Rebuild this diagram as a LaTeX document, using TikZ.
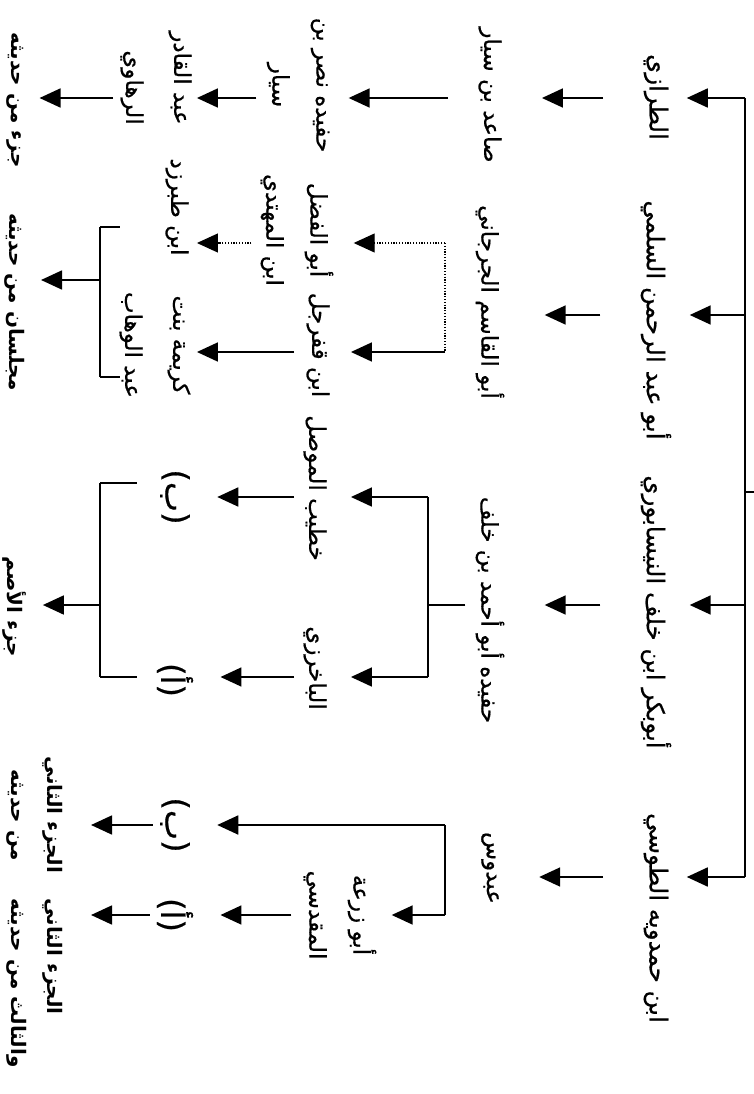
\documentclass[tikz,border=0pt]{standalone}
\usepackage{fontspec}
\usetikzlibrary{arrows.meta}
\TeXXeTstate=1
\newfontfamily\arbb[Script=Arabic]{DejaVu Sans Bold}
\newfontfamily\arb[Script=Arabic, FakeBold=0.6]{DejaVu Sans}
\newcommand\AR[1]{\beginR#1\endR}
\tikzset{
  txt/.style={rotate=-90, inner sep=0pt, outer sep=0pt, align=center},
  lone/.style={txt, font=\arb\fontsize{24.5}{30}\selectfont},
  ltwo/.style={txt, font=\arb\fontsize{23}{30}\selectfont},
  lthree/.style={txt, font=\arb\fontsize{23}{44}\selectfont},
  lfour/.style={txt, font=\arb\fontsize{23}{48}\selectfont},
  bld/.style={txt, font=\arbb\fontsize{20}{36}\selectfont},
  prn/.style={txt, font=\arb\fontsize{32}{36}\selectfont},
  ln/.style={line width=1.8pt},
  arr/.style={ln, -{Triangle[length=21pt,width=19pt]}},
  dotl/.style={line width=1.1pt, dash pattern=on 1.2pt off 1.6pt},
  darr/.style={dotl, -{Triangle[length=21pt,width=19pt]}},
}
\begin{document}
\begin{tikzpicture}[x=1pt,y=-1pt]
\useasboundingbox (0,0) rectangle (754,1094);
% level 1
\node[lone] (A1) at (656,97) {\AR{الطرازي}};
\node[lone] (A2) at (656,320) {\AR{أبو عبد الرحمن السلمي}};
\node[lone] (A3) at (656,612) {\AR{أبوبكر ابن خلف النيسابوري}};
\node[lone] (A4) at (656,918) {\AR{ابن حمدويه الطوسي}};
% level 2
\node[ltwo] (B1) at (490,95) {\AR{صاعد بن سيار}};
\node[ltwo] (B2) at (490,302) {\AR{أبو القاسم الجرجاني}};
\node[ltwo] (B3) at (490,610) {\AR{حفيده أبو أحمد بن خلف}};
\node[ltwo] (B4) at (490,868) {\AR{عبدوس}};
% level 3
\node[lthree] (C1) at (298,85) {\AR{حفيده نصر بن}\\\AR{سيار}};
\node[lthree] (C2) at (297,230) {\AR{أبو الفضل}\\\AR{ابن المهتدي}};
\node[lthree] (C3) at (318,345) {\AR{ابن قفرجل}};
\node[lthree] (C4) at (315,488) {\AR{خطيب الموصل}};
\node[lthree] (C5) at (315,668) {\AR{الباخرزي}};
\node[lthree] (C6) at (340,915) {\AR{أبو زرعة}\\\AR{المقدسي}};
% level 4
\node[lfour, align=right] (D1) at (156,78) {\AR{عبد القادر}\\\AR{الرهاوي}};
\node[lthree] (D2) at (177,207) {\AR{ابن طبرزد}};
\node[lfour] (D3) at (155,345) {\AR{كريمة بنت}\\\AR{عبد الوهاب}};
\node[prn] (D4) at (175,497) {\AR{(ب)}};
\node[prn] (D5) at (175,680) {\AR{(أ)}};
\node[prn] (D6) at (175,825) {\AR{(ب)}};
\node[prn] (D7) at (175,915) {\AR{(أ)}};
% level 5
\node[bld] (E1) at (15,100) {\AR{جزء من حديثه}};
\node[bld] (E2) at (15,302) {\AR{مجلسان من حديثه}};
\node[bld] (E3) at (15,607) {\AR{جزء الأصم}};
\node[bld] (E4) at (35,815) {\AR{الجزء الثاني}\\\AR{من حديثه}};
\node[bld, align=left] (E5) at (35,983) {\AR{الجزء الثاني}\\\AR{والثالث من حديثه}};
% root and level 1 arrows
\coordinate (J1) at (745,98);
\coordinate (J2) at (745,315);
\coordinate (J3) at (745,605);
\coordinate (J4) at (745,877);
\coordinate (R) at (754,492);
\draw[ln] (J1) -- (J4);
\draw[ln] (R) -- (R -| J1);
\foreach \i in {1,...,4}{
  \draw[arr, shorten >=18.5pt] (J\i) -- (J\i -| A\i.north);
  \draw[arr, shorten <=40.5pt, shorten >=40.4pt] (A\i.south |- J\i) -- (B\i.north |- J\i);
}
% level 2 -> 3
\draw[arr, shorten <=30.4pt, shorten >=19.4pt] (B1.south |- J1) -- (C1.north |- J1);
\coordinate (K1) at (445,243);
\coordinate (K2) at (445,352);
\draw[dotl] (K1) -- (K2);
\draw[darr, shorten >=20.4pt] (K1) -- (K1 -| C2.north);
\draw[arr, shorten >=21.4pt] (K2) -- (K2 -| C3.north);
\coordinate (K3) at (428,497);
\coordinate (K4) at (428,677);
\coordinate (K5) at (428,605);
\draw[ln] (K3) -- (K4);
\draw[ln, shorten <=10.4pt] (B3.south |- K5) -- (K5);
\draw[arr, shorten >=24.4pt] (K3) -- (K3 -| C4.north);
\draw[arr, shorten >=24.4pt] (K4) -- (K4 -| C5.north);
\coordinate (K6) at (445,825);
\coordinate (K7) at (445,915);
\draw[ln] (K6) -- (K7);
\draw[arr, shorten >=27.4pt] (K6) -- (K6 -| D6.north);
\draw[arr, shorten >=15.4pt] (K7) -- (K7 -| C6.north);
% level 3 -> 4
\draw[arr, shorten <=10.4pt, shorten >=5.4pt] (C1.south |- J1) -- (D1.north |- J1);
\draw[darr, shorten <=9.4pt, shorten >=8.4pt] (C2.south |- K1) -- (D2.north |- K1);
\draw[arr, shorten <=12.4pt, shorten >=6.4pt] (C3.south |- K2) -- (D3.north |- K2);
\draw[arr, shorten <=9.4pt, shorten >=27.4pt] (C4.south |- K3) -- (D4.north |- K3);
\draw[arr, shorten <=9.4pt, shorten >=27.4pt] (C5.south |- K4) -- (D5.north |- K4);
\draw[arr, shorten <=12.4pt, shorten >=27.4pt] (C6.south |- K7) -- (D7.north |- K7);
% level 4 -> 5
\draw[arr, shorten <=7.4pt, shorten >=16pt] (D1.south |- J1) -- (E1.north |- J1);
\coordinate (L1) at (100,227);
\coordinate (L2) at (100,377);
\coordinate (L3) at (100,280);
\draw[ln] (L1) -- (L2);
\draw[ln] (L1) -- ++(20,0);
\draw[ln] (L2) -- ++(20,0);
\draw[arr, shorten >=16pt] (L3) -- (L3 -| E2.north);
\coordinate (L4) at (100,483);
\coordinate (L5) at (100,677);
\coordinate (L6) at (100,605);
\draw[ln] (L4) -- (L5);
\draw[ln] (L4) -- ++(37,0);
\draw[ln] (L5) -- ++(37,0);
\draw[arr, shorten >=16pt] (L6) -- (L6 -| E3.north);
\draw[arr, shorten <=7.4pt, shorten >=28pt] (D6.south |- K6) -- (E4.north |- K6);
\draw[arr, shorten <=7.4pt, shorten >=28pt] (D7.south |- K7) -- (E5.north |- K7);
\end{tikzpicture}
\end{document}
